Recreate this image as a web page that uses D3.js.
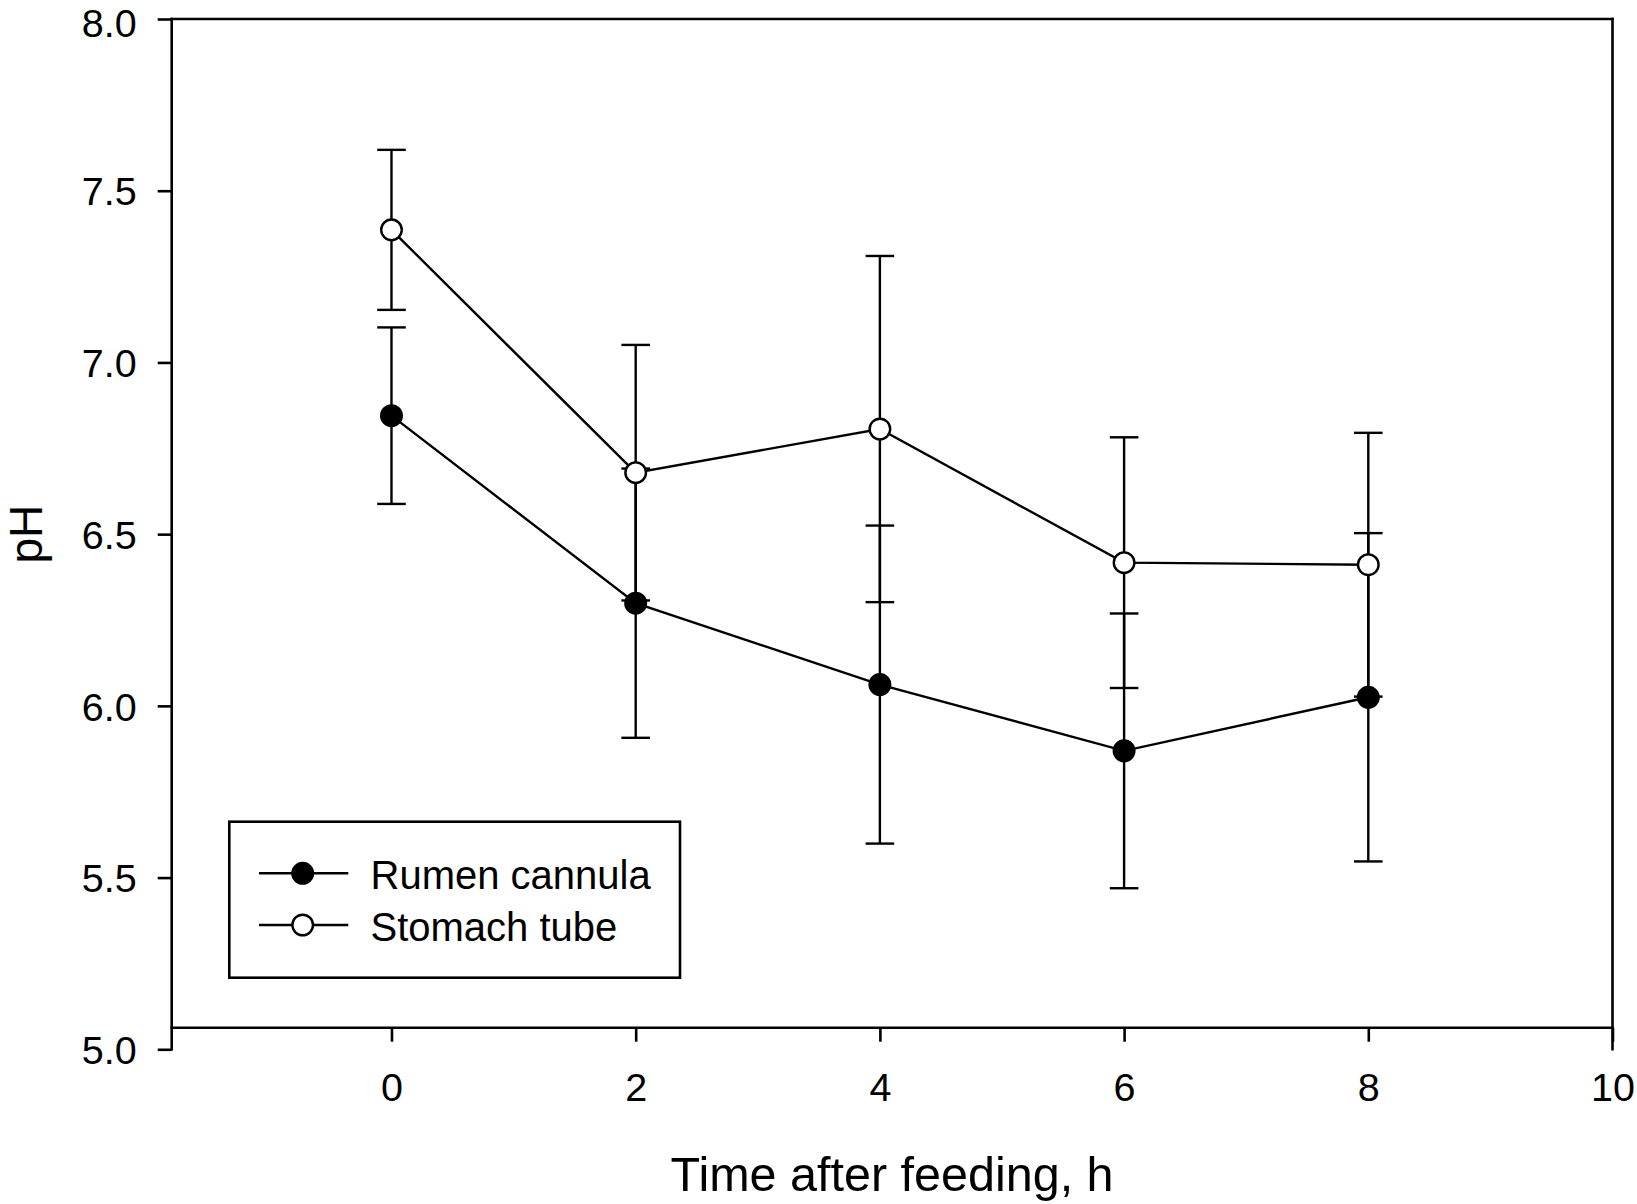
<!DOCTYPE html>
<html>
<head>
<meta charset="utf-8">
<script src="https://cdn.jsdelivr.net/npm/d3@7"></script>
<style>
  html, body { margin: 0; padding: 0; background: #fff; }
  svg { display: block; }
  text { font-family: "Liberation Sans", Arial, Helvetica, sans-serif; fill: #000; }
</style>
</head>
<body>
<script>
// ---- data ----
const times = [0, 2, 4, 6, 8];
const rumenMean = [6.845, 6.299, 6.062, 5.869, 6.025];
const rumenSE = [0.257, 0.392, 0.463, 0.400, 0.478];
const stomachMean = [7.386, 6.679, 6.806, 6.417, 6.411];
const stomachSE = [0.233, 0.372, 0.504, 0.365, 0.384];
const seriesNames = ["Rumen cannula", "Stomach tube"];
const xTickValues = [0, 2, 4, 6, 8, 10];
const yTickValues = [5.0, 5.5, 6.0, 6.5, 7.0, 7.5, 8.0];
const xTitle = "Time after feeding, h";
const yTitle = "pH";

// ---- layout ----
const W = 1637, H = 1204;
const pLeft = 171.7, pRight = 1612.5, pTop = 19, yBottom = 1049.3, xAxisY = 1027.7;

const svg = d3.select("body").append("svg").attr("width", W).attr("height", H);

const x = d3.scaleLinear().domain([-1.8, 10]).range([pLeft, pRight]);
const y = d3.scaleLinear().domain([5, 8]).range([yBottom, pTop]);

const axisW = 2.6, dataW = 2.4;

// y axis
const yAxis = svg.append("g").attr("transform", `translate(${pLeft},0)`)
  .call(d3.axisLeft(y).tickValues(yTickValues).tickFormat(d3.format(".1f")).tickSize(14).tickPadding(21));
yAxis.select(".domain").remove();
yAxis.selectAll(".tick line").attr("stroke", "#000").attr("stroke-width", axisW);
yAxis.selectAll(".tick text").attr("font-size", 39.5)
  .attr("dy", d => d === 8 ? "0.43em" : "0.36em")
  .style("font-family", '"Liberation Sans", Arial, sans-serif');

// x axis
const xAxis = svg.append("g").attr("transform", `translate(0,${xAxisY})`)
  .call(d3.axisBottom(x).tickValues(xTickValues).tickFormat(d3.format("d")).tickSize(14).tickPadding(31));
xAxis.select(".domain").remove();
xAxis.selectAll(".tick line").attr("stroke", "#000").attr("stroke-width", axisW);
xAxis.selectAll(".tick text").attr("font-size", 39.5)
  .style("font-family", '"Liberation Sans", Arial, sans-serif');

// frame lines
const frame = svg.append("g").attr("stroke", "#000").attr("stroke-width", axisW).attr("fill", "none")
  .attr("stroke-linecap", "square");
frame.append("line").attr("x1", pLeft).attr("x2", pLeft).attr("y1", pTop).attr("y2", yBottom);
frame.append("line").attr("x1", pLeft).attr("x2", pRight).attr("y1", pTop).attr("y2", pTop);
frame.append("line").attr("x1", pRight).attr("x2", pRight).attr("y1", pTop).attr("y2", yBottom);
frame.append("line").attr("x1", pLeft).attr("x2", pRight).attr("y1", xAxisY).attr("y2", xAxisY);

// titles
svg.append("text").attr("x", (pLeft + pRight) / 2).attr("y", 1190.5)
  .attr("text-anchor", "middle").attr("font-size", 48.5).text(xTitle);
svg.append("text").attr("transform", `translate(42,${(pTop + yBottom) / 2}) rotate(-90)`)
  .attr("text-anchor", "middle").attr("font-size", 46).text(yTitle);

// series
const series = [
  { name: seriesNames[0], mean: rumenMean, se: rumenSE, fill: "#000" },
  { name: seriesNames[1], mean: stomachMean, se: stomachSE, fill: "#fff" }
];
const capHalf = 14.3, r = 10.3;

const errG = svg.append("g").attr("stroke", "#000").attr("stroke-width", dataW);
series.forEach(s => {
  times.forEach((t, i) => {
    const cx = x(t), hi = y(s.mean[i] + s.se[i]), lo = y(s.mean[i] - s.se[i]);
    errG.append("line").attr("x1", cx).attr("x2", cx).attr("y1", hi).attr("y2", lo);
    errG.append("line").attr("x1", cx - capHalf).attr("x2", cx + capHalf).attr("y1", hi).attr("y2", hi);
    errG.append("line").attr("x1", cx - capHalf).attr("x2", cx + capHalf).attr("y1", lo).attr("y2", lo);
  });
});

const line = d3.line().x(d => x(d[0])).y(d => y(d[1]));
series.forEach(s => {
  svg.append("path").datum(times.map((t, i) => [t, s.mean[i]]))
    .attr("d", line).attr("fill", "none").attr("stroke", "#000").attr("stroke-width", dataW);
});
series.forEach(s => {
  svg.append("g").selectAll("circle").data(times.map((t, i) => [t, s.mean[i]])).join("circle")
    .attr("cx", d => x(d[0])).attr("cy", d => y(d[1])).attr("r", r)
    .attr("fill", s.fill).attr("stroke", "#000").attr("stroke-width", dataW);
});

// legend
const lg = svg.append("g");
lg.append("rect").attr("x", 229.3).attr("y", 821.7).attr("width", 450.7).attr("height", 156)
  .attr("fill", "#fff").attr("stroke", "#000").attr("stroke-width", axisW);
const rowsY = [873.3, 925];
series.forEach((s, i) => {
  const ry = rowsY[i];
  lg.append("line").attr("x1", 259).attr("x2", 348.3).attr("y1", ry).attr("y2", ry)
    .attr("stroke", "#000").attr("stroke-width", dataW);
  lg.append("circle").attr("cx", 302.7).attr("cy", ry).attr("r", r)
    .attr("fill", s.fill).attr("stroke", "#000").attr("stroke-width", dataW);
  lg.append("text").attr("x", 370.5).attr("y", ry + 15.5).attr("font-size", 40).text(s.name);
});
</script>
</body>
</html>
